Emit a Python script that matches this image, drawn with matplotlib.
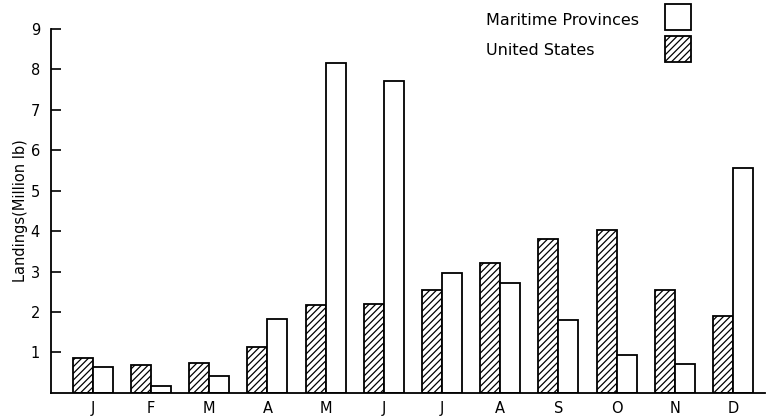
import numpy as np
import matplotlib.pyplot as plt
from matplotlib.patches import Rectangle

# Monthly landings (million lb)
months = ["J", "F", "M", "A", "M", "J", "J", "A", "S", "O", "N", "D"]
us_landings = [0.87, 0.68, 0.73, 1.13, 2.17, 2.20, 2.54, 3.20, 3.80, 4.02, 2.54, 1.90]
mp_landings = [0.63, 0.17, 0.42, 1.82, 8.15, 7.70, 2.96, 2.71, 1.80, 0.94, 0.72, 5.55]

plt.rcParams['font.family'] = ['DejaVu Sans']
plt.rcParams['hatch.linewidth'] = 0.9

fig = plt.figure(figsize=(7.66, 4.18), dpi=100)
ax = fig.add_axes([0.0666, 0.06, 0.932, 0.871])

x = np.arange(len(months))
w = 0.344
ax.bar(x - w / 2, us_landings, width=w, facecolor='white', edgecolor='black',
       hatch='/////', linewidth=1.3)
ax.bar(x + w / 2, mp_landings, width=w, facecolor='white', edgecolor='black',
       linewidth=1.3)

ax.set_xlim(-0.72, 11.55)
ax.set_ylim(0, 9)
ax.set_yticks(range(1, 10))
ax.set_xticks(x)
ax.set_xticklabels(months, fontsize=10.5)
ax.tick_params(axis='y', direction='in', length=7, width=1.2, labelsize=10.5, pad=8)
ax.tick_params(axis='x', length=0, pad=6)
ax.spines['top'].set_visible(False)
ax.spines['right'].set_visible(False)
ax.spines['left'].set_linewidth(1.3)
ax.spines['bottom'].set_linewidth(1.3)
ax.set_ylabel("Landings(Million lb)", fontsize=10.5, labelpad=2)

# Legend drawn by hand: labels left, swatches right
fig.text(0.634, 0.952, "Maritime Provinces", fontsize=11.5, ha='left', va='center')
fig.text(0.634, 0.880, "United States", fontsize=11.5, ha='left', va='center')
fig.patches.append(Rectangle((0.868, 0.928), 0.034, 0.062, transform=fig.transFigure,
                             facecolor='white', edgecolor='black', linewidth=1.3))
fig.patches.append(Rectangle((0.868, 0.852), 0.034, 0.062, transform=fig.transFigure,
                             facecolor='white', edgecolor='black', hatch='/////',
                             linewidth=1.3))

fig.savefig("out.png", dpi=100)
